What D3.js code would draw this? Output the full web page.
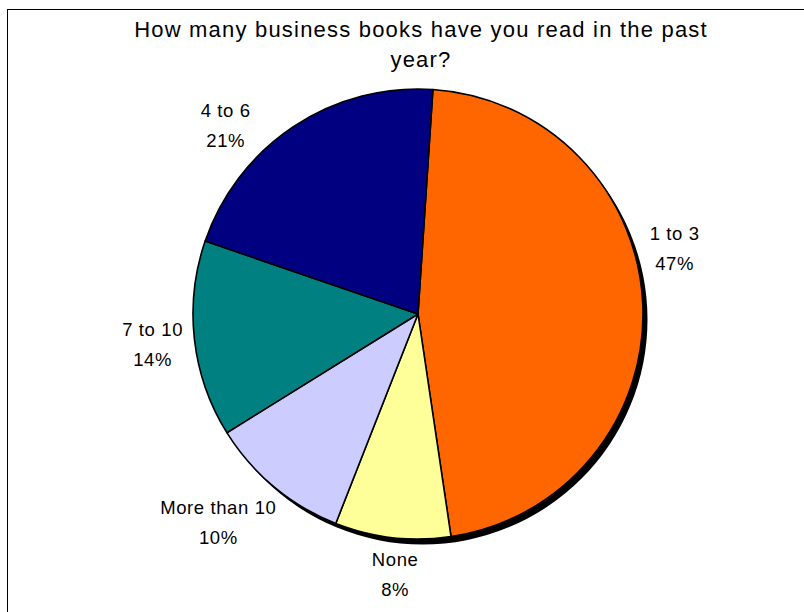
<!DOCTYPE html>
<html>
<head>
<meta charset="utf-8">
<script src="https://cdn.jsdelivr.net/npm/d3@7"></script>
<style>
  body { margin: 0; background: #fff; }
  text { font-family: "Liberation Sans", Arial, sans-serif; fill: #000; }
</style>
</head>
<body>
<svg id="chart" width="804" height="612"></svg>
<script>
  // data
  const categories = ["1 to 3", "None", "More than 10", "7 to 10", "4 to 6"];
  const shares = [46.6, 8.3, 10.2, 14.1, 20.8];
  const titleLines = ["How many business books have you read in the past", "year?"];

  const svg = d3.select("#chart");

  const cx = 418, cy = 314, radius = 225;
  const startDeg = 3.8;

  const color = d3.scaleOrdinal()
    .domain(categories)
    .range(["#ff6600", "#ffff99", "#ccccff", "#008080", "#000080"]);

  // chart border (runs off the right and bottom edge)
  svg.append("rect")
    .attr("x", 7.5).attr("y", 9.5)
    .attr("width", 900).attr("height", 700)
    .attr("fill", "none")
    .attr("stroke", "#000")
    .attr("stroke-width", 1);

  // title
  svg.append("g")
    .selectAll("text")
    .data(titleLines)
    .enter()
    .append("text")
    .attr("x", 421)
    .attr("y", (d, i) => 37 + i * 30)
    .attr("text-anchor", "middle")
    .attr("font-size", 22)
    .attr("letter-spacing", 1.2)
    .text(d => d);

  const rows = categories.map((c, i) => ({ cat: c, value: shares[i] }));

  const pie = d3.pie()
    .sort(null)
    .value(d => d.value)
    .startAngle(startDeg * Math.PI / 180)
    .endAngle(startDeg * Math.PI / 180 + 2 * Math.PI);

  const arcs = pie(rows);
  const arc = d3.arc().innerRadius(0).outerRadius(radius);

  // shadow
  svg.append("circle")
    .attr("cx", cx + 4.5)
    .attr("cy", cy + 5.5)
    .attr("r", radius)
    .attr("fill", "#000");

  const g = svg.append("g").attr("transform", `translate(${cx},${cy})`);

  g.selectAll("path")
    .data(arcs)
    .enter()
    .append("path")
    .attr("d", arc)
    .attr("fill", d => color(d.data.cat))
    .attr("stroke", "#000")
    .attr("stroke-width", 1.6)
    .attr("stroke-linejoin", "round");

  // labels outside the pie, nudged round a little like Excel's best fit
  const angleShift = { "1 to 3": -12, "4 to 6": -12, "More than 10": 4, "None": -1.5 };
  const gap = 14, lineGap = 30;

  const labels = g.selectAll(".lbl")
    .data(arcs)
    .enter()
    .append("g")
    .attr("class", "lbl");

  labels.each(function (d) {
    const lg = d3.select(this);
    const lines = [d.data.cat, Math.round(d.data.value) + "%"];
    const t = lg.selectAll("text")
      .data(lines)
      .enter()
      .append("text")
      .attr("text-anchor", "middle")
      .attr("font-size", 18.5)
      .attr("letter-spacing", 0.6)
      .attr("y", (s, i) => (i - 0.5) * lineGap + 6.5)
      .text(s => s);

    let w = 0;
    t.each(function () { w = Math.max(w, this.getComputedTextLength()); });
    const h = 50;

    const mid = (d.startAngle + d.endAngle) / 2 + (angleShift[d.data.cat] || 0) * Math.PI / 180;
    const ux = Math.sin(mid), uy = -Math.cos(mid);
    const extent = Math.abs(ux) * w / 2 + Math.abs(uy) * h / 2;
    const dist = radius + gap + extent * 0.85;
    lg.attr("transform", `translate(${ux * dist},${uy * dist})`);
  });
</script>
</body>
</html>
